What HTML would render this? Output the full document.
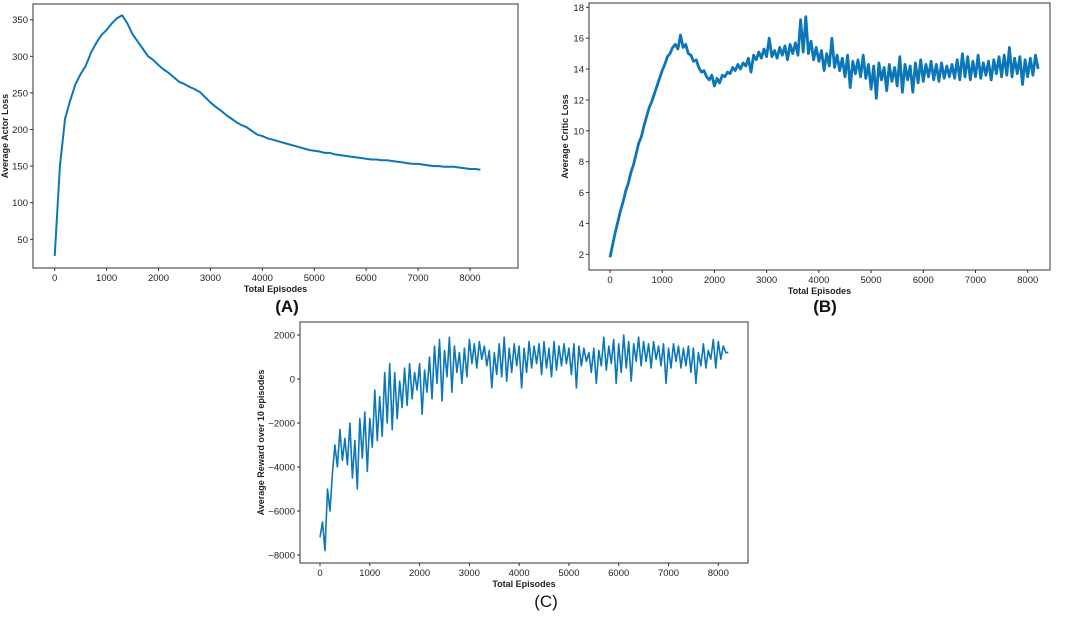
<!DOCTYPE html>
<html><head><meta charset="utf-8"><style>
body{margin:0;background:#fff;width:1065px;height:612px;overflow:hidden;font-family:"Liberation Sans",sans-serif}
svg text{font-family:"Liberation Sans",sans-serif}
</style></head><body>
<svg id="s" width="1065" height="612"></svg>
<script>
const STEP_A=100;
const actorLoss=[27,150,215,240,262,276,287,305,318,329,336,345,352,356,345,330,320,310,300,295,288,282,277,271,265,262,258,255,251,244,237,231,226,220,215,210,206,203,198,193,191,188,186,184,182,180,178,176,174,172,171,170,168,168,166,165,164,163,162,161,160,159,159,158,158,157,156,155,154,153,153,152,151,150,150,149,149,149,148,147,146,146,145];
const STEP_B=50;
const criticLoss=[1.8,2.6,3.4,4.1,4.8,5.4,6.1,6.6,7.3,7.8,8.5,9.2,9.6,10.3,10.9,11.5,11.9,12.4,12.9,13.4,13.9,14.3,14.8,15.0,15.4,15.6,15.3,16.2,15.4,15.6,15.0,14.9,14.5,14.6,14.1,13.8,13.9,13.5,13.3,13.6,12.9,13.4,13.1,13.6,13.5,13.8,13.7,14.1,13.9,14.3,14.0,14.4,14.2,14.7,13.8,14.9,14.6,15.1,14.7,15.3,14.8,16.0,14.8,15.2,14.7,15.4,14.9,15.5,14.6,15.6,15.0,15.7,14.9,17.2,15.1,17.4,15.0,15.8,14.6,15.4,14.5,15.2,13.9,15.0,14.2,16.0,14.1,14.9,13.9,14.7,13.5,14.9,12.8,14.5,13.7,14.6,13.5,14.9,13.4,14.3,12.7,14.2,12.1,14.4,13.3,14.1,12.6,14.3,13.2,14.1,12.9,14.8,12.5,14.3,13.3,14.2,12.5,14.4,13.1,14.6,13.2,14.3,13.5,14.5,13.3,14.3,13.2,14.4,13.4,14.2,13.5,14.3,13.4,14.6,13.3,15.0,13.5,14.8,13.3,14.5,13.5,14.9,13.4,14.4,13.6,14.5,13.3,14.6,13.7,14.8,13.5,14.9,13.6,15.4,13.5,14.7,13.7,14.8,13.0,14.6,13.5,14.7,13.6,14.9,14.0];
const STEP_C=50;
const reward=[-7200,-6500,-7800,-5000,-6000,-4300,-3000,-4000,-2300,-3700,-2700,-3900,-2000,-4500,-2800,-5000,-1800,-3600,-1500,-4200,-1800,-3100,-500,-2800,-800,-2600,300,-2000,700,-2300,300,-1800,-100,-1300,500,-1200,700,-900,300,-500,700,-1600,400,-600,1000,-900,1500,-200,1800,-1000,1300,100,1900,-600,1500,300,1200,-200,1400,100,1800,700,1600,500,1700,900,1500,600,1300,-400,1200,200,1600,100,1900,-100,1400,300,1600,600,1500,-400,1400,300,1700,500,1500,700,1600,200,1700,500,1400,100,1700,400,1500,600,1600,700,1400,200,1600,-400,1500,600,1400,800,1200,300,1400,-200,1300,600,1900,400,1500,700,1800,-200,1600,300,2000,500,1700,-100,1600,800,1900,600,1700,800,1600,500,1700,900,1500,600,1600,-200,1400,500,1600,800,1500,500,1400,600,1500,300,1400,-200,1200,600,1600,500,1300,900,1800,500,1700,900,1500,1200,1200];
const xTicks=[0,1000,2000,3000,4000,5000,6000,7000,8000];
const yTicksA=[50,100,150,200,250,300,350];
const yTicksB=[2,4,6,8,10,12,14,16,18];
const yTicksC=[-8000,-6000,-4000,-2000,0,2000];

const NS="http://www.w3.org/2000/svg";
const svg=document.getElementById('s');
function mk(t,a,p){const e=document.createElementNS(NS,t);for(const k in a)e.setAttribute(k,a[k]);(p||svg).appendChild(e);return e;}
function panel(cfg){
  const g=mk('g',{});
  
  
  const X=v=>cfg.x0+(v-0)*(cfg.x8-cfg.x0)/8000;
  const Y=v=>cfg.ya+(v-cfg.va)*(cfg.yb-cfg.ya)/(cfg.vb-cfg.va);
  const fr=mk('rect',{x:cfg.L,y:cfg.T,width:cfg.R-cfg.L,height:cfg.B-cfg.T,fill:'none',stroke:'#555','stroke-width':1.2},g);
  
  
  xTicks.forEach(t=>{
    mk('line',{x1:X(t),x2:X(t),y1:cfg.B,y2:cfg.B+3,stroke:'#333'},g);
    const tx=mk('text',{x:X(t),y:cfg.B+13,'font-size':9.5,'text-anchor':'middle',fill:'#222'},g);
    tx.textContent=t;
    
    
  });
  cfg.yt.forEach(t=>{
    mk('line',{x1:cfg.L-3,x2:cfg.L,y1:Y(t),y2:Y(t),stroke:'#333'},g);
    const tx=mk('text',{x:cfg.L-5,y:Y(t)+3.5,'font-size':9.5,'text-anchor':'end',fill:'#222'},g);
    tx.textContent=t<0?'\u2212'+(-t):t;
    
    
  });
  const pts=cfg.data.map((v,i)=>X(i*cfg.step).toFixed(1)+','+Y(v).toFixed(1)).join(' ');
  const pl=mk('polyline',{points:pts,fill:'none',stroke:'#0b76b8','stroke-width':cfg.sw,'stroke-linejoin':'round'},g);
  
  
  const xl=mk('text',{x:(cfg.L+cfg.R)/2,y:cfg.B+24,'font-size':9,'font-weight':'bold','text-anchor':'middle',fill:'#222'},g);
  xl.textContent='Total Episodes';
  
  
  const yl=mk('text',{x:0,y:0,'font-size':9,'font-weight':'bold','text-anchor':'middle',fill:'#222',transform:`translate(${cfg.ylx},${(cfg.T+cfg.B)/2}) rotate(-90)`},g);
  yl.textContent=cfg.ylab;
  
  
  const cap=mk('text',{x:cfg.capx,y:cfg.capy,'font-size':17,'font-weight':cfg.capw,'text-anchor':'middle',fill:'#111'},g);
  cap.textContent=cfg.cap;
  
  
}
panel({name:'actor-loss-chart',L:33,T:4,R:518,B:268,x0:54.7,x8:470,ya:19.7,va:350,yb:239.3,vb:50,yt:yTicksA,data:actorLoss,step:STEP_A,sw:2,ylab:'Average Actor Loss',ylx:8,cap:'(A)',capx:287,capy:312,capw:'bold'});
panel({name:'critic-loss-chart',L:589,T:3,R:1050,B:270,x0:610,x8:1027.7,ya:7.3,va:18,yb:254.3,vb:2,yt:yTicksB,data:criticLoss,step:STEP_B,sw:2.8,ylab:'Average Critic Loss',ylx:568,cap:'(B)',capx:825,capy:312,capw:'bold'});
panel({name:'reward-chart',L:300,T:322,R:748,B:563,x0:320,x8:718.3,ya:335,va:2000,yb:555,vb:-8000,yt:yTicksC,data:reward,step:STEP_C,sw:1.6,ylab:'Average Reward over 10 episodes',ylx:264,cap:'(C)',capx:546,capy:607,capw:'normal'});
</script>
</body></html>
